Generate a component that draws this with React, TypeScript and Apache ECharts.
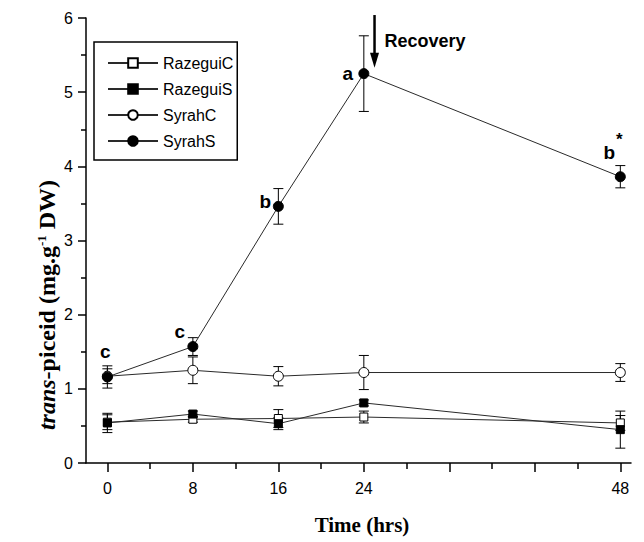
import React, { useEffect, useRef } from 'react';
import * as echarts from 'echarts';

const times = [0, 8, 16, 24, 48];
const razeguiC = [0.55, 0.59, 0.6, 0.62, 0.54];
const razeguiCErr = [0.1, 0.04, 0.12, 0.08, 0.1];
const razeguiS = [0.54, 0.66, 0.53, 0.81, 0.45];
const razeguiSErr = [0.13, 0.04, 0.08, 0.04, 0.25];
const syrahC = [1.17, 1.25, 1.17, 1.22, 1.22];
const syrahCErr = [0.1, 0.18, 0.13, 0.23, 0.12];
const syrahS = [1.16, 1.57, 3.46, 5.25, 3.86];
const syrahSErr = [0.15, 0.12, 0.24, 0.51, 0.15];
const syrahSLetters = ['c', 'c', 'b', 'a', 'b'];
const syrahSMarks = ['', '', '', '', '*'];
const seriesNames = ['RazeguiC', 'RazeguiS', 'SyrahC', 'SyrahS'];
const xLabelValues = [0, 8, 16, 24, 48];
const xMajorTicks = [0, 8, 16, 24, 32, 40, 48];
const xMinorTicks = [4, 12, 20, 28, 36, 44];
const recoveryTime = 25;
const recoveryFrom = 6.04;
const recoveryTo = 5.33;
const recoveryText = 'Recovery';

// label placement (pixels, relative to point)
const letterOffsets = [[-2, -25], [-13, -15], [-13, -5], [-16, 0], [-11, -24]];
const markOffsets = [[0, 0], [0, 0], [0, 0], [0, 0], [-1, -37]];

const SANS = '"Liberation Sans", Arial, sans-serif';
const SERIF = '"Liberation Serif", "Times New Roman", serif';
const LINE = '#2a2a2a';

export default function App() {
  const ref = useRef<HTMLDivElement>(null);
  useEffect(() => {
    if (!ref.current) return;
    const chart = echarts.init(ref.current, undefined, { renderer: 'svg' });
    const pts = (vals: number[]) => times.map((t, i) => [t, vals[i]]);
    const errs = (vals: number[], e: number[]) => times.map((t, i) => [t, vals[i], e[i]]);

    const lineSeries = (name: string, vals: number[], symbol: string, size: number, filled: boolean) => ({
      name,
      type: 'line',
      data: pts(vals),
      symbol,
      symbolSize: size,
      showAllSymbol: true,
      z: 3,
      lineStyle: { color: LINE, width: 1 },
      itemStyle: { color: filled ? '#000' : '#fff', borderColor: '#000', borderWidth: 1, opacity: 1 },
      emphasis: { disabled: true },
    });

    const errSeries = (vals: number[], e: number[]) => ({
      type: 'custom',
      z: 2,
      silent: true,
      data: errs(vals, e),
      encode: { x: 0, y: 1 },
      renderItem: (params: any, api: any) => {
        const x = api.value(0);
        const y = api.value(1);
        const d = api.value(2);
        const top = api.coord([x, y + d]);
        const bot = api.coord([x, y - d]);
        const hw = 5;
        const st = { stroke: '#000', lineWidth: 1 };
        return {
          type: 'group',
          children: [
            { type: 'line', shape: { x1: top[0], y1: top[1], x2: bot[0], y2: bot[1] }, style: st },
            { type: 'line', shape: { x1: top[0] - hw, y1: top[1], x2: top[0] + hw, y2: top[1] }, style: st },
            { type: 'line', shape: { x1: bot[0] - hw, y1: bot[1], x2: bot[0] + hw, y2: bot[1] }, style: st },
          ],
        };
      },
    });

    const labelStyle = (size: number) => ({
      fontFamily: SANS,
      fontWeight: 'bold',
      fontSize: size,
      color: '#000',
      opacity: 1,
      textBorderWidth: 0,
      textBorderColor: 'transparent',
    });

    const legendText = { fontFamily: SANS, fontSize: 16, color: '#000' };

    const annotationSeries = (texts: string[], offsets: number[][], size: number) => ({
      type: 'scatter',
      silent: true,
      symbolSize: 0,
      z: 4,
      itemStyle: { opacity: 1, color: '#000' },
      emphasis: { disabled: true },
      data: times.map((t, i) => ({
        value: [t, syrahS[i]],
        label: {
          show: texts[i] !== '',
          position: 'inside',
          offset: offsets[i],
          formatter: texts[i] || ' ',
          ...labelStyle(size),
        },
      })),
    });

    const option: any = {
      animation: false,
      backgroundColor: '#fff',
      grid: { left: 86, right: 13, top: 18, bottom: 79, containLabel: false, outerBoundsMode: 'none' },
      legend: {
        data: seriesNames.map((n) => ({ name: n, textStyle: legendText })),
        orient: 'vertical',
        left: 94,
        top: 42,
        padding: [13, 4, 11, 13],
        itemWidth: 50,
        itemHeight: 12,
        itemGap: 10,
        itemTextGap: 5,
        borderColor: '#000',
        borderWidth: 1.5,
        backgroundColor: '#fff',
        selectedMode: false,
        textStyle: legendText,
      },
      xAxis: [
        {
          type: 'value',
          min: -2,
          max: 49,
          axisLine: { show: true, onZero: false, lineStyle: { color: '#000', width: 1.5 } },
          axisTick: { show: true, length: 9, customValues: xMajorTicks, lineStyle: { color: '#000', width: 1.5 } },
          axisLabel: { customValues: xLabelValues, fontFamily: SANS, fontSize: 16, color: '#000', margin: 17 },
          splitLine: { show: false },
        },
        {
          type: 'value',
          min: -2,
          max: 49,
          position: 'bottom',
          axisLine: { show: false, onZero: false },
          axisTick: { show: true, length: 6, customValues: xMinorTicks, lineStyle: { color: '#000', width: 1.5 } },
          axisLabel: { show: false },
          splitLine: { show: false },
        },
      ],
      yAxis: {
        type: 'value',
        min: 0,
        max: 6,
        interval: 1,
        axisLine: { show: true, onZero: false, lineStyle: { color: '#000', width: 1.5 } },
        axisTick: { show: true, length: 8, lineStyle: { color: '#000', width: 1.5 } },
        minorTick: { show: true, splitNumber: 2, length: 5, lineStyle: { color: '#000', width: 1.5 } },
        axisLabel: { fontFamily: SANS, fontSize: 16, color: '#000', margin: 13, showMinLabel: true, showMaxLabel: true },
        splitLine: { show: false },
      },
      series: [
        errSeries(razeguiC, razeguiCErr),
        errSeries(razeguiS, razeguiSErr),
        errSeries(syrahC, syrahCErr),
        errSeries(syrahS, syrahSErr),
        lineSeries(seriesNames[0], razeguiC, 'rect', 8, false),
        lineSeries(seriesNames[1], razeguiS, 'rect', 8, true),
        lineSeries(seriesNames[2], syrahC, 'circle', 10, false),
        lineSeries(seriesNames[3], syrahS, 'circle', 10, true),
        annotationSeries(syrahSLetters, letterOffsets, 19),
        annotationSeries(syrahSMarks, markOffsets, 17),
      ],
    };
    chart.setOption(option);

    const top = chart.convertToPixel({ gridIndex: 0 }, [recoveryTime, recoveryFrom]) as number[];
    const tip = chart.convertToPixel({ gridIndex: 0 }, [recoveryTime, recoveryTo]) as number[];
    const headLen = 15;
    const headHalf = 4.5;
    chart.setOption({
      graphic: [
        {
          type: 'line',
          shape: { x1: top[0], y1: top[1], x2: tip[0], y2: tip[1] - headLen + 2 },
          style: { stroke: '#000', lineWidth: 2.5 },
          z: 10,
        },
        {
          type: 'polygon',
          shape: {
            points: [
              [tip[0] - headHalf, tip[1] - headLen],
              [tip[0] + headHalf, tip[1] - headLen],
              [tip[0], tip[1]],
            ],
          },
          style: { fill: '#000' },
          z: 10,
        },
        {
          type: 'text',
          x: top[0] + 10,
          y: top[1] + 26,
          style: {
            text: recoveryText,
            fontFamily: SANS,
            fontWeight: 'bold',
            fontSize: 18,
            fill: '#000',
            align: 'left',
            verticalAlign: 'middle',
          },
          z: 10,
        },
        {
          type: 'text',
          x: 47,
          y: 305,
          rotation: Math.PI / 2,
          style: {
            text: '{i|trans}{n|-piceid (mg.g}{s|-1}{n| DW)}',
            align: 'center',
            verticalAlign: 'middle',
            fill: '#000',
            rich: {
              i: { fontFamily: SERIF, fontWeight: 'bold', fontStyle: 'italic', fontSize: 24, fill: '#000' },
              n: { fontFamily: SERIF, fontWeight: 'bold', fontSize: 24, fill: '#000' },
              s: { fontFamily: SERIF, fontWeight: 'bold', fontSize: 13, fill: '#000', verticalAlign: 'top' },
            },
          },
        },
        {
          type: 'text',
          x: 362,
          y: 525,
          style: {
            text: 'Time (hrs)',
            fontFamily: SERIF,
            fontWeight: 'bold',
            fontSize: 21,
            fill: '#000',
            align: 'center',
            verticalAlign: 'middle',
          },
        },
      ],
    });

    return () => chart.dispose();
  }, []);
  return <div ref={ref} style={{ width: 644, height: 542, position: 'absolute', left: 0, top: 0 }} />;
}
